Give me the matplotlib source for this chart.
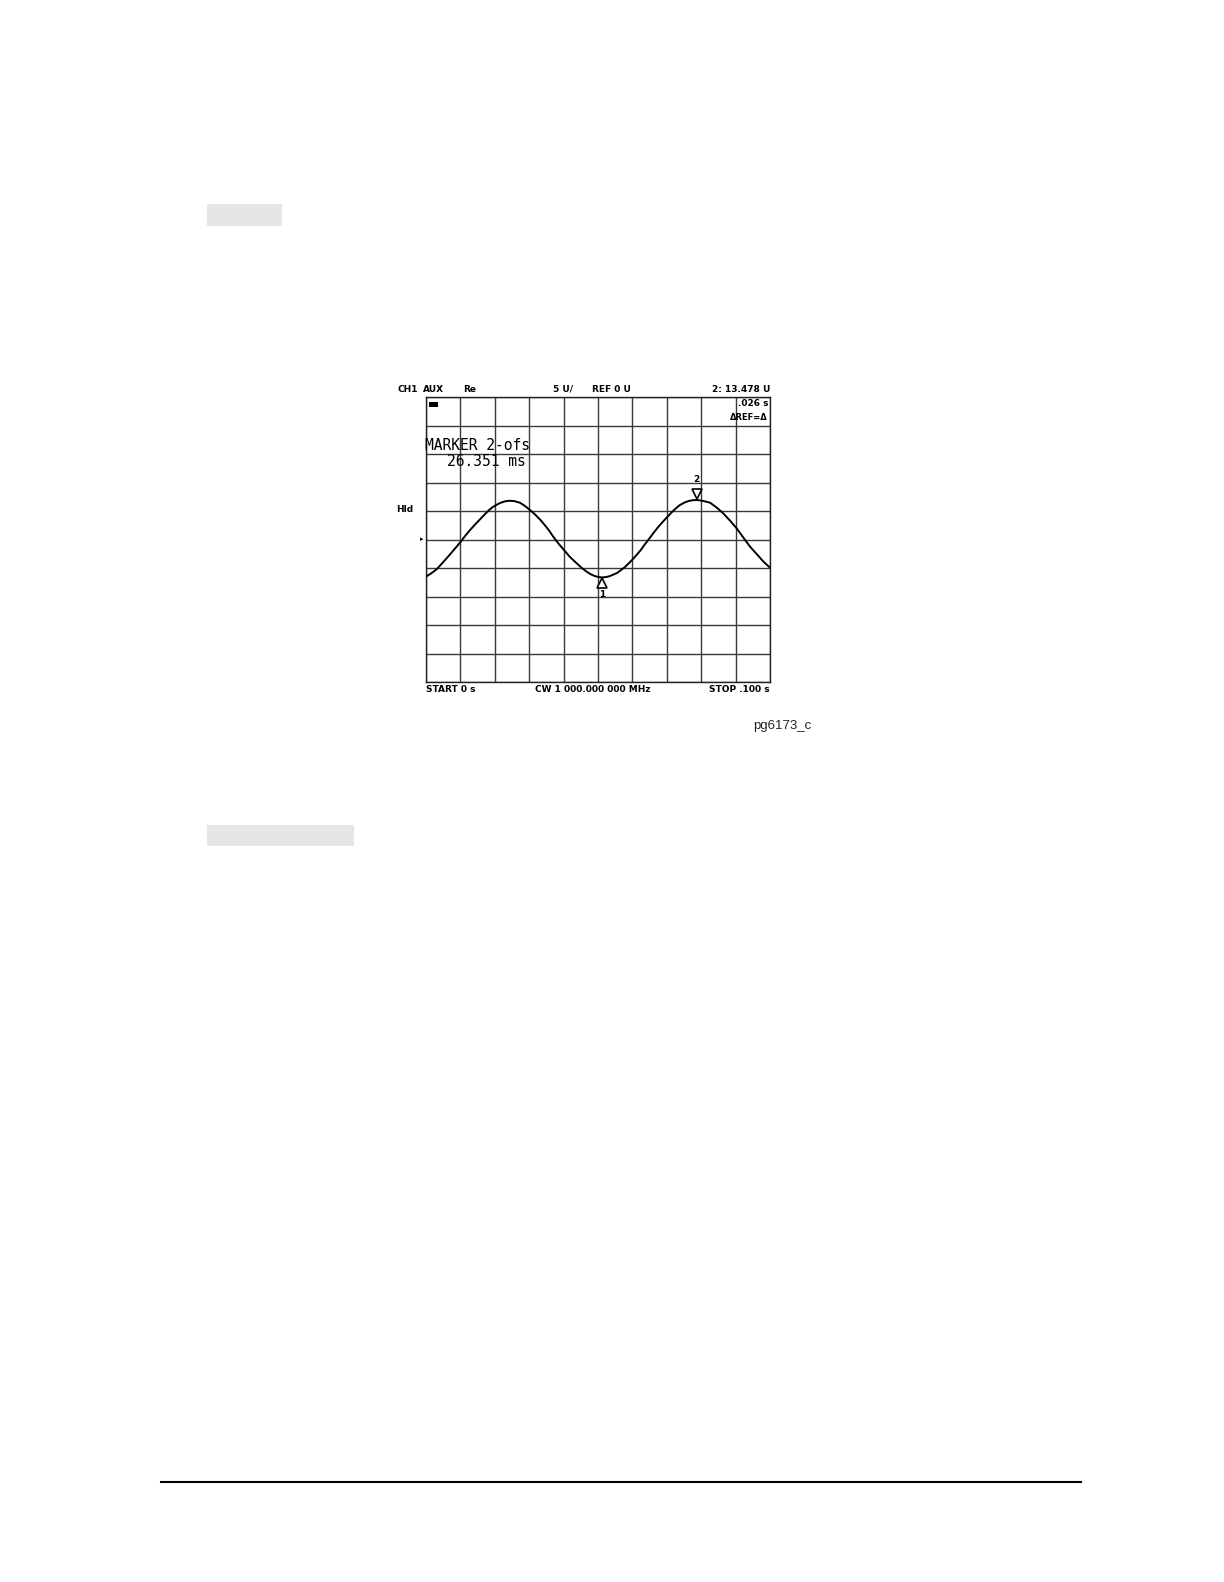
#!/usr/bin/env python3
"""Network analyzer plot (CH1 AUX Re, time sweep) on a manual page."""

import matplotlib
matplotlib.use("Agg")
import matplotlib.pyplot as plt
import matplotlib.transforms as mtransforms
from matplotlib.patches import Rectangle
from matplotlib.lines import Line2D
import numpy as np

W, H = 1224, 1582

t_s = [0.0, 0.0015, 0.0031, 0.0045, 0.0060, 0.0080, 0.0101, 0.0114, 0.0128,
       0.0143, 0.0157, 0.0169, 0.0181, 0.0192, 0.0204, 0.0215, 0.0230, 0.0244,
       0.0258, 0.0273, 0.0286, 0.0300, 0.0316, 0.0331, 0.0345, 0.0358, 0.0370,
       0.0385, 0.0401, 0.0419, 0.0438, 0.0453, 0.0467, 0.0479, 0.0490, 0.0501,
       0.0512, 0.0522, 0.0533, 0.0543, 0.0554, 0.0566, 0.0578, 0.0590, 0.0601,
       0.0613, 0.0625, 0.0635, 0.0646, 0.0660, 0.0675, 0.0689, 0.0702, 0.0714,
       0.0726, 0.0738, 0.0752, 0.0765, 0.0776, 0.0787, 0.0798, 0.0810, 0.0826,
       0.0845, 0.0864, 0.0884, 0.0903, 0.0923, 0.0942, 0.0962, 0.0981, 0.1]
trace_u = [-6.51, -5.95, -5.22, -4.30, -3.29, -1.90, -0.39, 0.65, 1.66,
           2.65, 3.54, 4.30, 5.04, 5.60, 6.05, 6.40, 6.70, 6.80,
           6.72, 6.45, 5.95, 5.29, 4.45, 3.54, 2.55, 1.55, 0.49,
           -0.70, -1.84, -3.10, -4.17, -5.00, -5.64, -6.10, -6.40, -6.58,
           -6.65, -6.60, -6.45, -6.20, -5.92, -5.40, -4.85, -4.15, -3.47,
           -2.65, -1.80, -0.95, -0.09, 1.05, 2.20, 3.15, 3.99, 4.75,
           5.45, 6.04, 6.50, 6.78, 6.90, 6.92, 6.85, 6.70, 6.45,
           5.60, 4.59, 3.30, 1.96, 0.30, -1.26, -2.60, -3.89, -4.94]

marker1 = (0.0512, -6.65)
marker2 = (0.0787, 6.92)

x_ticks = np.linspace(0.0, 0.1, 11)
y_ticks = np.arange(-25, 26, 5)

header = [("CH1", 397), ("AUX", 423), ("Re", 463), ("5 U/", 553), ("REF 0 U", 592)]
header_right = "2: 13.478 U"
footer = [("START 0 s", 426, "left"), ("CW 1 000.000 000 MHz", 535, "left"),
          ("STOP .100 s", 770, "right")]


def fx(x):
    return x / W


def fy(y):
    return 1 - y / H


def main():
    fig = plt.figure(figsize=(W / 100, H / 100), dpi=100)
    fig.patch.set_facecolor("white")

    # page furniture
    fig.add_artist(Rectangle((fx(207), fy(226)), (282 - 207) / W, 22 / H,
                             transform=fig.transFigure, facecolor="#e6e6e6",
                             edgecolor="none"))
    fig.add_artist(Rectangle((fx(207), fy(846)), (354 - 207) / W, 21 / H,
                             transform=fig.transFigure, facecolor="#e6e6e6",
                             edgecolor="none"))
    fig.add_artist(Line2D([fx(161), fx(1081)], [fy(1482), fy(1482)],
                          transform=fig.transFigure, color="black", lw=1.5))
    fig.text(fx(753), fy(726), "pg6173_c", family="Liberation Sans",
             fontsize=9.5, ha="left", va="center", color="#222222")

    # plot
    ax = fig.add_axes([fx(426), fy(682), 344 / W, 285 / H])
    ax.set_xlim(0, 0.1)
    ax.set_ylim(-25, 25)
    ax.set_xticks(x_ticks)
    ax.set_yticks(y_ticks)
    ax.grid(True, color="#3a3a3a", lw=1.0)
    ax.tick_params(length=0, labelbottom=False, labelleft=False)
    for sp in ax.spines.values():
        sp.set_color("#222222")
        sp.set_linewidth(1.0)

    ax.plot(t_s, trace_u, color="black", lw=1.4, zorder=3,
            solid_joinstyle="round")

    # markers
    off2 = mtransforms.offset_copy(ax.transData, fig=fig, x=0, y=6, units="dots")
    ax.plot([marker2[0]], [marker2[1]], marker="v", ms=7, mfc="white",
            mec="black", mew=1.2, transform=off2, zorder=4, clip_on=False)
    ax.annotate("2", marker2, xytext=(0, 14.5), textcoords="offset points",
                ha="center", va="center", fontsize=6.5, fontweight="bold")
    off1 = mtransforms.offset_copy(ax.transData, fig=fig, x=0, y=-6, units="dots")
    ax.plot([marker1[0]], [marker1[1]], marker="^", ms=7, mfc="white",
            mec="black", mew=1.2, transform=off1, zorder=4, clip_on=False)
    ax.annotate("1", marker1, xytext=(0, -12), textcoords="offset points",
                ha="center", va="center", fontsize=6.5, fontweight="bold")

    # annotations inside the graticule
    ax.add_patch(Rectangle((fx(429), fy(407)), 9 / W, 5 / H,
                           transform=fig.transFigure, facecolor="black",
                           edgecolor="none", zorder=5))
    fig.text(fx(768), fy(404), ".026 s", fontsize=6.5, fontweight="bold",
             ha="right", va="center", zorder=5)
    fig.text(fx(768), fy(418), "\u0394REF=\u0394", fontsize=6, fontweight="bold",
             ha="right", va="center", zorder=5)
    fig.text(fx(425), fy(446), "MARKER 2-ofs", family="DejaVu Sans Mono",
             fontsize=10.5, ha="left", va="center", zorder=5)
    fig.text(fx(447), fy(462), "26.351 ms", family="DejaVu Sans Mono",
             fontsize=10.5, ha="left", va="center", zorder=5)

    # header / side / footer labels
    for s, x in header:
        fig.text(fx(x), fy(389), s, fontsize=6.5, fontweight="bold",
                 ha="left", va="center")
    fig.text(fx(770), fy(389), header_right, fontsize=6.5, fontweight="bold",
             ha="right", va="center")
    fig.text(fx(396), fy(509), "Hld", fontsize=6.5, fontweight="bold",
             ha="left", va="center")
    fig.text(fx(423), fy(539.5), "\u25b8", fontsize=5, ha="right", va="center")
    for s, x, ha in footer:
        fig.text(fx(x), fy(689), s, fontsize=6.5, fontweight="bold",
                 ha=ha, va="center")

    fig.savefig("out.png", dpi=100, facecolor="white")


if __name__ == "__main__":
    main()
